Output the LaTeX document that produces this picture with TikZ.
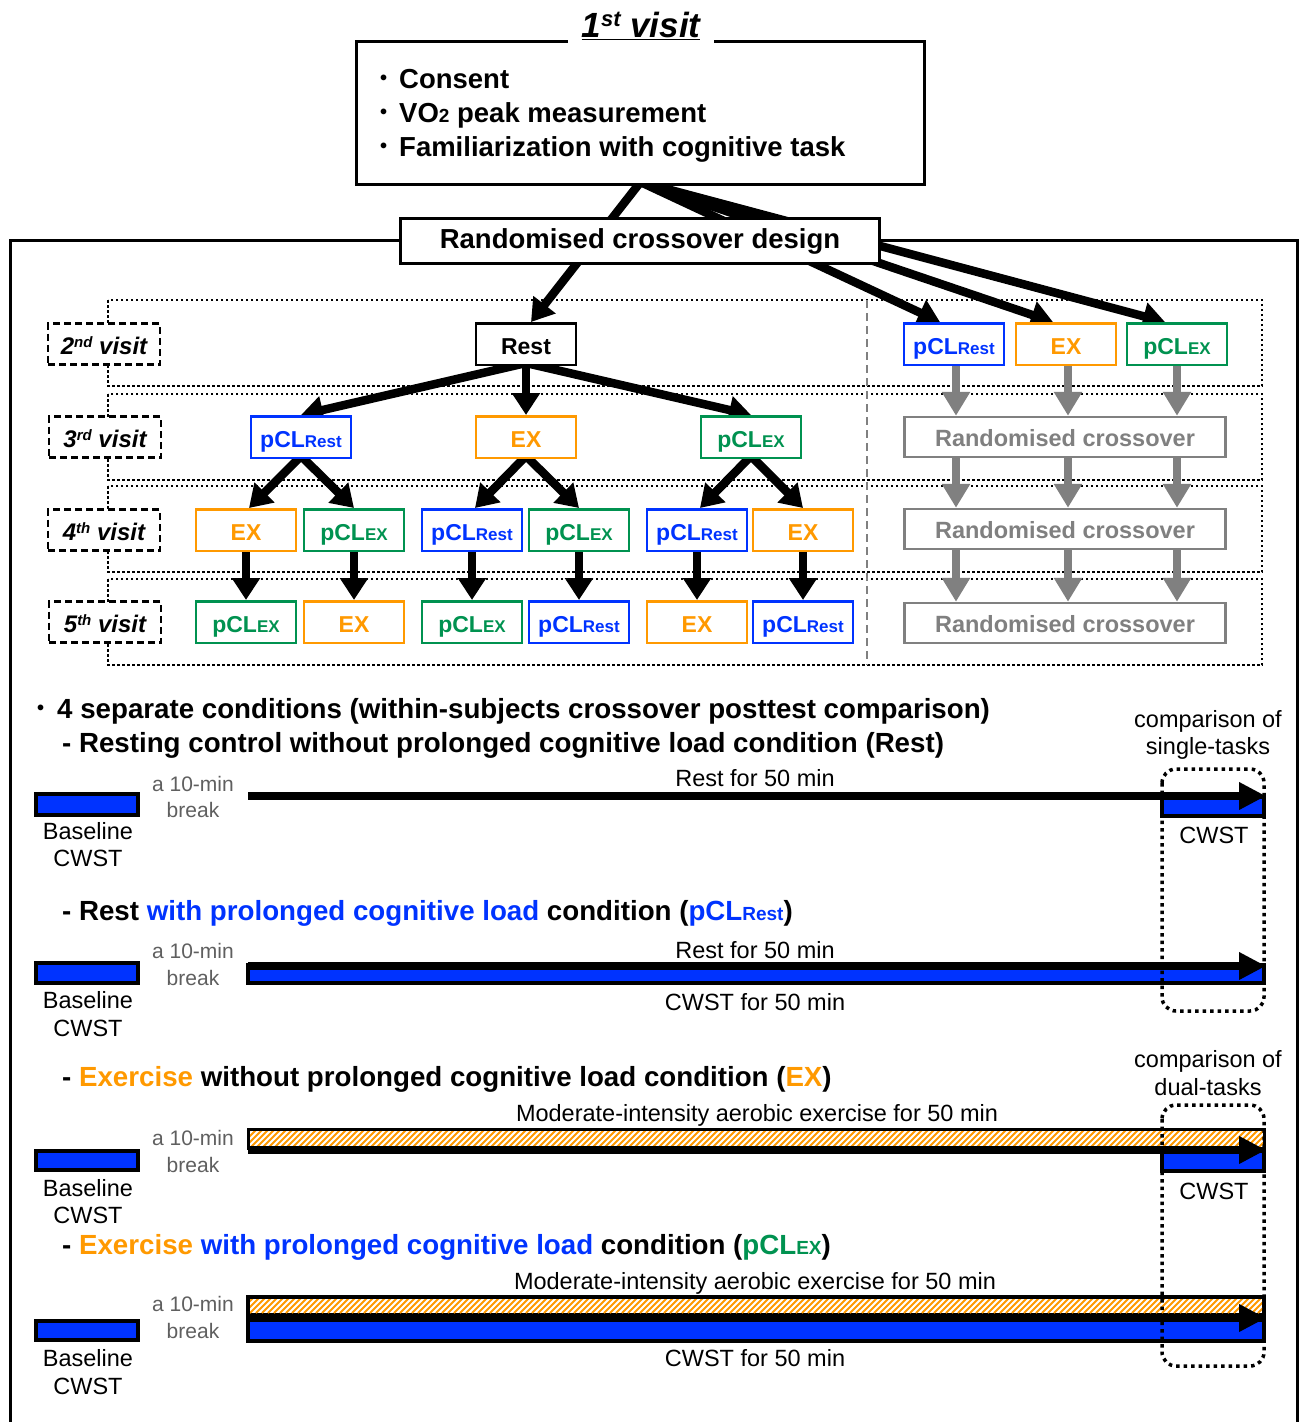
\documentclass[tikz,border=0pt]{standalone}
\usepackage{fontspec}
\setmainfont{Liberation Sans}
\usetikzlibrary{arrows.meta}
\definecolor{cblue}{RGB}{0,51,255}
\definecolor{corange}{RGB}{255,153,0}
\definecolor{cgreen}{RGB}{0,146,80}
\definecolor{cgray}{RGB}{128,128,128}
\definecolor{tgray}{RGB}{95,95,95}
\pgfdeclarelayer{back}
\pgfdeclarelayer{links}
\pgfsetlayers{back,links,main}
\newcommand{\fs}[1]{\fontsize{#1}{#1}\selectfont}
\newcommand{\pclR}{pCL{\fs{17}Rest}}
\newcommand{\pclE}{pCL{\fs{17}EX}}
\newcommand{\ordv}[2]{#1\raisebox{7pt}{\fs{15}#2}\ visit}
\newcommand{\bdot}{\raisebox{3.5pt}{\fs{20}•}}
\newcommand{\hatchfill}[4]{%
  \fill[white] (#1,#2) rectangle (#3,#4);
  \begin{scope}
    \clip (#1,#2) rectangle (#3,#4);
    \foreach \k in {220,226,...,1270} {\draw[corange, line width=1.9pt] (\k,#4) -- ++(26,-26);}
  \end{scope}}
\tikzset{
  box/.style={draw, line width=3pt, fill=white, inner sep=0pt},
  cn/.style={draw, line width=2.5pt, fill=white, minimum width=100pt, minimum height=41.5pt, inner sep=0pt, text height=20pt, text depth=0pt, font=\fs{23}\bfseries},
  nB/.style={cn, draw=cblue, text=cblue},
  nO/.style={cn, draw=corange, text=corange},
  nG/.style={cn, draw=cgreen, text=cgreen},
  nK/.style={cn, draw=black, text=black},
  rcx/.style={draw=cgray, text=cgray, line width=2.5pt, fill=white, minimum width=321pt, minimum height=40pt, inner sep=0pt, text height=18pt, text depth=0pt, font=\fs{23.5}\bfseries},
  vis/.style={draw, line width=2.5pt, dash pattern=on 7pt off 4pt, fill=white, minimum width=112pt, minimum height=41pt, inner sep=0pt, text height=20pt, text depth=0pt, font=\fs{24}\bfseries\itshape},
  rowbox/.style={line width=2.5pt, dash pattern=on 2.5pt off 2.5pt},
  arr/.style={line width=8.5pt, -{Triangle[width=27pt,length=22pt]}},
  garr/.style={line width=8.5pt, draw=cgray, -{Triangle[width=27pt,length=24pt]}},
  tl/.style={line width=8.5pt, -{Triangle[width=26pt,length=27pt]}},
  lbl/.style={font=\fs{23.5}, anchor=base, inner sep=0pt},
  glbl/.style={font=\fs{21}, text=tgray, anchor=base, inner sep=0pt},
  hdr/.style={font=\fs{27.7}\bfseries, anchor=base west, inner sep=0pt},
  cmp/.style={draw, line width=3.5pt, dash pattern=on 3.5pt off 4pt, rounded corners=14pt},
  bar/.style={draw, line width=3.5pt, fill=cblue},
}
\begin{document}
\begin{tikzpicture}[x=1pt,y=-1pt]
\useasboundingbox (0,0) rectangle (1302,1422);

\begin{pgfonlayer}{back}
  \draw[line width=3pt] (10,1430) -- (10,240) -- (1297,240) -- (1297,1430);
  \draw[rowbox] (108,300) rectangle (1262,386);
  \draw[rowbox] (108,394) rectangle (1262,480);
  \draw[rowbox] (108,486) rectangle (1262,572);
  \draw[rowbox] (108,579) rectangle (1262,665);
  \draw[cgray, line width=2pt, dash pattern=on 8pt off 5pt] (867,300) -- (867,665);
\end{pgfonlayer}

% first visit
\node[box, minimum width=568pt, minimum height=143pt] (v1) at (640.5,113) {};
\node[fill=white, anchor=base, inner xsep=14pt, inner ysep=4pt, font=\fs{35}\bfseries\itshape] (t1) at (641,37) {\underline{1\raisebox{11pt}{\fs{22}st} visit}};
\node[anchor=base west, inner sep=0pt, font=\fs{27.5}\bfseries] (b1) at (380,88) {\bdot\hspace{12pt}Consent};
\node[anchor=base west, inner sep=0pt, font=\fs{27.5}\bfseries] (b2) at (380,122) {\bdot\hspace{12pt}VO{\fs{19}2} peak measurement};
\node[anchor=base west, inner sep=0pt, font=\fs{27.5}\bfseries] (b3) at (380,156) {\bdot\hspace{12pt}Familiarization with cognitive task};

\node[box, minimum width=479pt, minimum height=45pt, font=\fs{27.5}\bfseries] (rcd) at (640,241) {Randomised crossover design};

% visit labels
\node[vis] (l2) at (104,344) {\ordv{2}{nd}};
\node[vis] (l3) at (105,437) {\ordv{3}{rd}};
\node[vis] (l4) at (104,530) {\ordv{4}{th}};
\node[vis] (l5) at (105,622) {\ordv{5}{th}};

% tree
\node[nK] (rest) at (526,344) {Rest};
\node[nB] (a3) at (301,437) {\pclR};
\node[nO] (b3n) at (526,437) {EX};
\node[nG] (c3) at (751,437) {\pclE};
\node[nO] (a4) at (246,530) {EX};
\node[nG] (b4) at (354,530) {\pclE};
\node[nB] (c4) at (472,530) {\pclR};
\node[nG] (d4) at (579,530) {\pclE};
\node[nB] (e4) at (697,530) {\pclR};
\node[nO] (f4) at (803,530) {EX};
\node[nG] (a5) at (246,622) {\pclE};
\node[nO] (b5) at (354,622) {EX};
\node[nG] (c5) at (472,622) {\pclE};
\node[nB] (d5) at (579,622) {\pclR};
\node[nO] (e5) at (697,622) {EX};
\node[nB] (f5) at (803,622) {\pclR};

% right branch
\node[nB] (r1) at (954,344) {\pclR};
\node[nO] (r2) at (1066,344) {EX};
\node[nG] (r3) at (1177,344) {\pclE};
\node[rcx] (g1) at (1065,437) {Randomised crossover};
\node[rcx] (g2) at (1065,529) {Randomised crossover};
\node[rcx] (g3) at (1065,623) {Randomised crossover};

\begin{pgfonlayer}{links}
  \draw[arr] ([yshift=4pt]v1.south) -- ([xshift=5pt]rest.north);
  \draw[arr] ([yshift=4pt]v1.south) -- ([xshift=-14pt]r1.north);
  \draw[arr] ([yshift=4pt]v1.south) -- ([xshift=-13pt]r2.north);
  \draw[arr] ([yshift=4pt]v1.south) -- ([xshift=-12pt]r3.north);
  \draw[arr] ([yshift=3pt]rest.south) -- (a3.north);
  \draw[arr] ([yshift=3pt]rest.south) -- (b3n.north);
  \draw[arr] ([yshift=3pt]rest.south) -- (c3.north);
  \draw[arr] ([yshift=3pt]a3.south) -- ([xshift=3pt]a4.north);
  \draw[arr] ([yshift=3pt]a3.south) -- (b4.north);
  \draw[arr] ([yshift=3pt]b3n.south) -- ([xshift=3pt]c4.north);
  \draw[arr] ([yshift=3pt]b3n.south) -- (d4.north);
  \draw[arr] ([yshift=3pt]c3.south) -- ([xshift=3pt]e4.north);
  \draw[arr] ([yshift=3pt]c3.south) -- (f4.north);
  \draw[arr] (a4.south) -- (a5.north);
  \draw[arr] (b4.south) -- (b5.north);
  \draw[arr] (c4.south) -- (c5.north);
  \draw[arr] (d4.south) -- (d5.north);
  \draw[arr] (e4.south) -- (e5.north);
  \draw[arr] (f4.south) -- (f5.north);
  \foreach \n/\dx in {r1/2,r2/2,r3/0} {
    \draw[garr] ([xshift=\dx pt]\n.south) -- ([xshift=\dx pt]\n.south |- g1.north);
    \draw[garr] ([xshift=\dx pt]\n.south |- g1.south) -- ([xshift=\dx pt]\n.south |- g2.north);
    \draw[garr] ([xshift=\dx pt]\n.south |- g2.south) -- ([xshift=\dx pt]\n.south |- g3.north);
  }
\end{pgfonlayer}

% headers
\node[hdr] (h1) at (37,718) {\bdot\hspace{13pt}4 separate conditions (within-subjects crossover posttest comparison)};
\node[hdr] (h2) at (62,752) {- Resting control without prolonged cognitive load condition (Rest)};
\node[hdr] (h3) at (62,920) {- Rest \textcolor{cblue}{with prolonged cognitive load} condition (\textcolor{cblue}{pCL{\fs{19}Rest}})};
\node[hdr] (h4) at (62,1086) {- \textcolor{corange}{Exercise} without prolonged cognitive load condition (\textcolor{corange}{EX})};
\node[hdr] (h5) at (62,1254) {- \textcolor{corange}{Exercise} \textcolor{cblue}{with prolonged cognitive load} condition (\textcolor{cgreen}{pCL{\fs{19}EX}})};

% comparison labels
\node[align=center, font=\fontsize{23.5}{27.5}\selectfont, inner sep=0pt] (cmp1) at (1208,735) {comparison of\\single-tasks};
\node[align=center, font=\fontsize{23.5}{27.5}\selectfont, inner sep=0pt] (cmp2) at (1208,1073) {comparison of\\dual-tasks};

% timeline 1
\draw[bar] (36,794) rectangle (138,815);
\node[lbl] (bl1) at (88,839) {Baseline};
\node[lbl] (bc1) at (88,866) {CWST};
\node[glbl] (ga1) at (193,791) {a 10-min};
\node[glbl] (gb1) at (193,817) {break};
\node[lbl] (rl1) at (755,786) {Rest for 50 min};
\draw[bar] (1162,797) rectangle (1264,816);
\coordinate (s1) at (248,796);
\coordinate (e1) at (1266,796);
\draw[tl] (s1) -- (e1);
\node[lbl] (cw1) at (1214,843) {CWST};

% timeline 2
\draw[bar] (36,963) rectangle (138,983);
\node[lbl] (bl2) at (88,1008) {Baseline};
\node[lbl] (bc2) at (88,1036) {CWST};
\node[glbl] (ga2) at (193,958) {a 10-min};
\node[glbl] (gb2) at (193,985) {break};
\node[lbl] (rl2) at (755,958) {Rest for 50 min};
\draw[bar] (248,965) rectangle (1264,983);
\coordinate (s2) at (248,966);
\coordinate (e2) at (1266,966);
\draw[tl] (s2) -- (e2);
\node[lbl] (cl2) at (755,1010) {CWST for 50 min};

% timeline 3
\draw[bar] (36,1151) rectangle (138,1170);
\node[lbl] (bl3) at (88,1196) {Baseline};
\node[lbl] (bc3) at (88,1223) {CWST};
\node[glbl] (ga3) at (193,1145) {a 10-min};
\node[glbl] (gb3) at (193,1172) {break};
\node[lbl] (ml3) at (757,1121) {Moderate-intensity aerobic exercise for 50 min};
\hatchfill{248}{1129}{1264}{1148}
\draw[line width=3pt] (248,1129) rectangle (1264,1148);
\draw[bar] (1162,1151) rectangle (1264,1171);
\coordinate (s3) at (248,1150);
\coordinate (e3) at (1266,1150);
\draw[tl] (s3) -- (e3);
\node[lbl] (cw3) at (1214,1199) {CWST};

% timeline 4
\draw[bar] (36,1321) rectangle (138,1340);
\node[lbl] (bl4) at (88,1366) {Baseline};
\node[lbl] (bc4) at (88,1394) {CWST};
\node[glbl] (ga4) at (193,1311) {a 10-min};
\node[glbl] (gb4) at (193,1338) {break};
\node[lbl] (ml4) at (755,1289) {Moderate-intensity aerobic exercise for 50 min};
\fill[black] (246,1295) rectangle (1266,1343);
\hatchfill{250}{1299}{1262}{1313}
\fill[cblue] (250,1322) rectangle (1262,1339);
\coordinate (s4) at (248,1318);
\coordinate (e4) at (1266,1318);
\draw[tl] (s4) -- (e4);
\node[lbl] (cl4) at (755,1366) {CWST for 50 min};

% dotted comparison boxes
\draw[cmp] (1162,769) rectangle (1264,1011);
\draw[cmp] (1162,1105) rectangle (1264,1366);
\end{tikzpicture}
\end{document}
